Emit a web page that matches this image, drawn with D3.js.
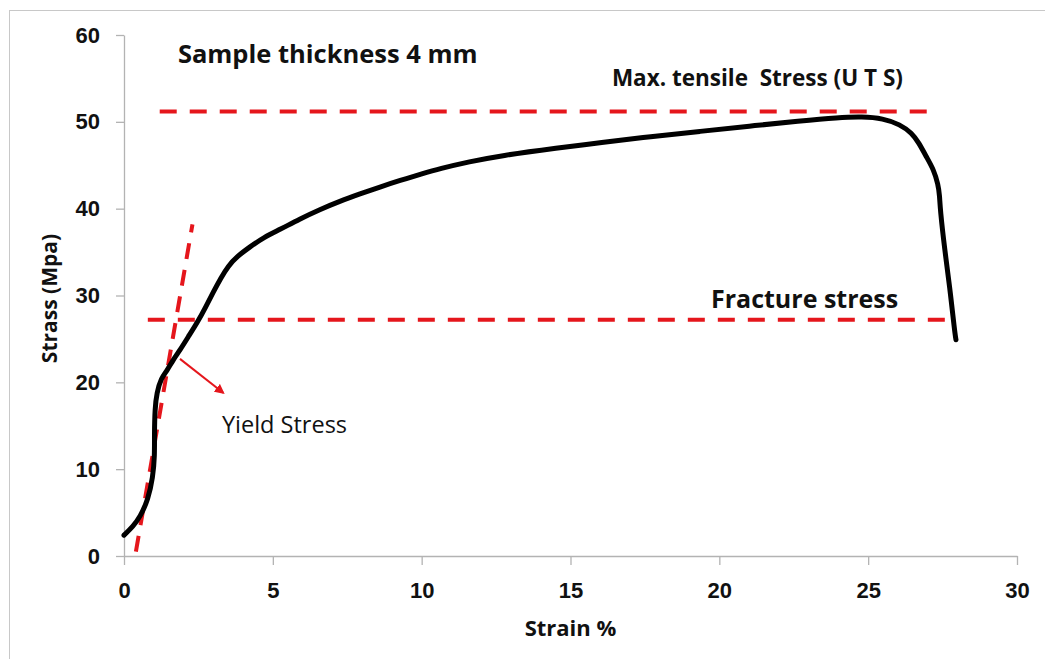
<!DOCTYPE html>
<html>
<head>
<meta charset="utf-8">
<script src="https://cdn.jsdelivr.net/npm/d3@7"></script>
<style>
  body { margin: 0; background: #fff; }
  svg { font-family: "Open Sans", Lato, sans-serif; }
</style>
</head>
<body>
<svg></svg>
<script>
const width = 1045;
const height = 659;
const margin = { top: 35, right: 28, bottom: 103, left: 124 };

// stress-strain curve
const strain = [0, 0.3, 0.54, 0.81, 0.97, 1.03, 1.02, 1.04, 1.1, 1.25, 1.44, 1.65, 1.88, 2.15,
  2.45, 2.75, 3.0, 3.25, 3.5, 3.8, 4.23, 4.7, 5.24, 5.9, 6.58, 7.25, 7.93, 8.6, 9.27, 10.0,
  10.6, 11.6, 12.63, 14.6, 16.0, 17.7, 19.35, 21.0, 22.7, 24.0, 24.8, 25.5, 26.07, 26.47, 26.7,
  26.95, 27.2, 27.35, 27.4, 27.42, 27.57, 27.74, 27.91, 27.95];
const stress = [2.4, 3.4, 4.5, 6.5, 9.1, 11.5, 14, 17, 18.8, 20.5, 21.3, 22.6, 23.7, 25.2,
  26.8, 28.7, 30.4, 32.0, 33.4, 34.5, 35.6, 36.7, 37.6, 38.8, 39.9, 40.85, 41.7, 42.5, 43.25, 44.0,
  44.6, 45.4, 46.1, 47.0, 47.6, 48.3, 48.9, 49.5, 50.1, 50.5, 50.6, 50.4, 49.7, 48.7, 47.6,
  46.0, 44.5, 42.8, 41.5, 39.9, 35.3, 31.0, 25.7, 24.9];

const xTicks = [0, 5, 10, 15, 20, 25, 30];
const yTicks = [0, 10, 20, 30, 40, 50, 60];

// reference lines: [x1, y1, x2, y2]
const utsLine = [1.2, 51.2, 27.35, 51.2];
const fractureLine = [0.8, 27.2, 27.85, 27.2];
const yieldLine = [0.4, 0.5, 2.3, 38.2];
const yieldArrow = [1.88, 22.7, 3.33, 18.8];

// annotations: [text, x, y, size, weight]
const notes = [
  ["Sample thickness 4 mm", 1.81, 56.8, 25.5, "bold"],
  ["Max. tensile  Stress (U T S)", 16.39, 54.1, 22.5, "bold"],
  ["Fracture stress", 19.72, 28.6, 25, "bold"],
  ["Yield Stress", 3.29, 14.2, 23.5, "normal"],
];

const red = "#e5161c";
const axisGrey = "#b3b3b3";

const svg = d3.select("svg").attr("width", width).attr("height", height);

// chart frame
svg.append("rect")
  .attr("x", 9.5).attr("y", 10.5)
  .attr("width", width).attr("height", height)
  .attr("fill", "none").attr("stroke", "#c8c8c8");

const xScale = d3.scaleLinear().domain([0, 30]).range([margin.left, width - margin.right]);
const yScale = d3.scaleLinear().domain([0, 60]).range([height - margin.bottom, margin.top]);

const xAxis = d3.axisBottom(xScale).tickValues(xTicks).tickSize(9).tickSizeOuter(0).tickPadding(17);
const yAxis = d3.axisLeft(yScale).tickValues(yTicks).tickSize(8).tickSizeOuter(0).tickPadding(16);

const gx = svg.append("g")
  .attr("transform", `translate(0, ${yScale(0)})`)
  .call(xAxis);
const gy = svg.append("g")
  .attr("transform", `translate(${xScale(0)}, 0)`)
  .call(yAxis);

[gx, gy].forEach((g) => {
  g.selectAll("path, line").attr("stroke", axisGrey).attr("stroke-width", 1.3);
  g.selectAll("text")
    .attr("fill", "#111")
    .style("font-size", "22px")
    .style("font-weight", "bold");
});

// axis titles
svg.append("text")
  .attr("x", (xScale(0) + xScale(30)) / 2)
  .attr("y", 636)
  .attr("text-anchor", "middle")
  .attr("fill", "#111")
  .style("font-size", "22px")
  .style("font-weight", "bold")
  .text("Strain %");

svg.append("text")
  .attr("transform", `translate(57, ${(yScale(0) + yScale(60)) / 2 + 3}) rotate(-90)`)
  .attr("text-anchor", "middle")
  .attr("fill", "#111")
  .style("font-size", "21px")
  .style("font-weight", "bold")
  .text("Strass (Mpa)");

// dashed reference lines
const dashed = [
  [utsLine, "17,13"],
  [fractureLine, "17,13"],
  [yieldLine, "16,11"],
];
dashed.forEach(([l, dash]) => {
  svg.append("line")
    .attr("x1", xScale(l[0])).attr("y1", yScale(l[1]))
    .attr("x2", xScale(l[2])).attr("y2", yScale(l[3]))
    .attr("stroke", red)
    .attr("stroke-width", 4)
    .attr("stroke-dasharray", dash);
});

// curve
const line = d3.line()
  .x((d) => xScale(d[0]))
  .y((d) => yScale(d[1]))
  .curve(d3.curveBasis);

svg.append("path")
  .datum(strain.map((s, i) => [s, stress[i]]))
  .attr("d", line)
  .attr("fill", "none")
  .attr("stroke", "#000")
  .attr("stroke-width", 5)
  .attr("stroke-linecap", "round")
  .attr("stroke-linejoin", "round");

// yield arrow
svg.append("defs").append("marker")
  .attr("id", "arrow")
  .attr("viewBox", "0 0 10 10")
  .attr("refX", 8).attr("refY", 5)
  .attr("markerWidth", 5).attr("markerHeight", 5)
  .attr("orient", "auto")
  .append("path")
  .attr("d", "M0,0 L10,5 L0,10 z")
  .attr("fill", red);

svg.append("line")
  .attr("x1", xScale(yieldArrow[0])).attr("y1", yScale(yieldArrow[1]))
  .attr("x2", xScale(yieldArrow[2])).attr("y2", yScale(yieldArrow[3]))
  .attr("stroke", red)
  .attr("stroke-width", 2)
  .attr("marker-end", "url(#arrow)");

// annotations
svg.selectAll(".note")
  .data(notes)
  .enter()
  .append("text")
  .attr("class", "note")
  .attr("x", (d) => xScale(d[1]))
  .attr("y", (d) => yScale(d[2]))
  .attr("fill", "#111")
  .style("white-space", "pre")
  .style("font-size", (d) => d[3] + "px")
  .style("font-weight", (d) => d[4])
  .text((d) => d[0]);
</script>
</body>
</html>
